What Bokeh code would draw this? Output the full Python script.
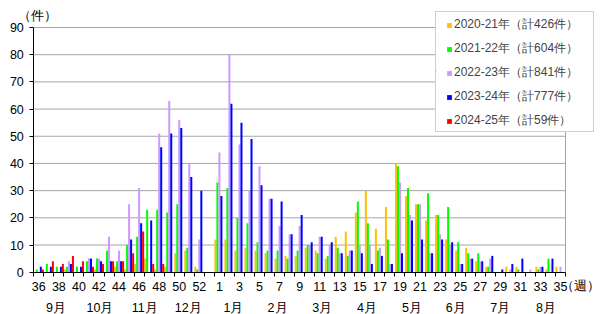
import numpy as np
from bokeh.plotting import figure
from bokeh.models import (Range1d, FixedTicker, LinearAxis, Legend, LegendItem,
                          ColumnDataSource, Label)
from bokeh.embed import file_html
from bokeh.resources import INLINE

# ---- data ----
weeks = list(range(36, 54)) + list(range(1, 36))
week_labels = [str(w) for w in weeks]
month_labels = ["9月", "10月", "11月", "12月", "1月", "2月", "3月", "4月",
                "5月", "6月", "7月", "8月"]
series_names = ["2020-21年（計426件）", "2021-22年（計604件）", "2022-23年（計841件）",
                "2023-24年（計777件）", "2024-25年（計59件）"]
y_unit = "（件）"
x_unit = "（週）"
y_ticks = list(range(0, 91, 10))

s2020_21 = [0, 0, 0, 1, 0, 0, 1, 0, 2, 1, 3, 5, 1, 2, 7, 8, 2, 0,
            12, 12, 8, 9, 8, 7, 5, 6, 6, 9, 8, 5, 13, 15, 22, 30, 16, 24, 40, 28,
            25, 19, 21, 12, 8, 9, 4, 2, 0, 2, 2, 0, 2, 1, 2]
s2021_22 = [1, 3, 2, 2, 2, 4, 5, 8, 4, 10, 13, 23, 23, 22, 25, 9, 1, 0,
            33, 31, 20, 18, 11, 8, 8, 5, 8, 10, 7, 6, 9, 6, 26, 18, 8, 12, 39, 31,
            25, 29, 21, 24, 11, 7, 7, 2, 0, 0, 1, 0, 1, 5, 0]
s2022_23 = [0, 0, 0, 4, 0, 5, 5, 13, 8, 25, 31, 0, 51, 63, 56, 40, 12, 0,
            44, 80, 47, 30, 39, 27, 17, 14, 17, 10, 13, 10, 7, 8, 10, 10, 9, 3, 33, 21,
            25, 7, 14, 10, 3, 5, 4, 5, 0, 1, 0, 1, 2, 0, 2]
s2023_24 = [2, 2, 2, 3, 2, 5, 4, 4, 4, 12, 18, 19, 46, 51, 53, 35, 30, 0,
            28, 62, 55, 49, 32, 27, 26, 14, 21, 11, 13, 11, 7, 8, 7, 3, 6, 3, 7, 19,
            12, 7, 12, 11, 3, 5, 4, 6, 1, 3, 5, 0, 2, 5, 0]
s2024_25 = [1, 4, 3, 6, 4, 2, 3, 4, 4, 7, 15, 3, 3, 0, 0, 0, 0, 0] + [0] * 35

series = [s2020_21, s2021_22, s2022_23, s2023_24, s2024_25]
colors = ["#FFC000", "#00FF00", "#CC99FF", "#0000FF", "#FF0000"]

# ---- layout constants ----
N = len(weeks)
YMAX = 90
FONT = "Liberation Sans"
GRID = "#a6a6a6"
W, H = 600, 314
PL, PR, PT, PB = 33.3, 565.0, 27.0, 271.7      # plot area in pixels
pxw = (PR - PL) / N
pxv = (PB - PT) / YMAX
month_pos = [2.2, 6.6, 11.05, 15.4, 19.9, 24.3, 28.75, 33.2, 37.7, 42.05, 46.5, 51.05]

# the frame spans the whole canvas; axes are pinned at the data origin
p = figure(width=W, height=H, title=None,
           x_range=Range1d(-PL / pxw, N + (W - PR) / pxw),
           y_range=Range1d(-(H - PB) / pxv, YMAX + PT / pxv),
           output_backend="svg", toolbar_location=None, min_border=0)
p.background_fill_color = "white"
p.border_fill_color = "white"
p.outline_line_color = None
p.xgrid.visible = False
p.ygrid.visible = False

# gridlines and right border of the plot area
p.segment(x0=[0] * (len(y_ticks) - 1), x1=[N] * (len(y_ticks) - 1),
          y0=y_ticks[1:], y1=y_ticks[1:], line_color=GRID, line_width=1)
p.segment(x0=[N], x1=[N], y0=[0], y1=[YMAX], line_color=GRID, line_width=1)

centers = np.arange(N) + 0.5
bw = 0.2
renderers = []
for k, (vals, col) in enumerate(zip(series, colors)):
    src = ColumnDataSource(dict(x=centers + (k - 2) * bw, top=vals))
    r = p.vbar(x="x", top="top", width=bw, source=src, fill_color=col,
               line_color=None)
    renderers.append(r)

# y axis
ya = p.yaxis[0]
ya.fixed_location = 0
ya.bounds = (0, YMAX)
ya.ticker = FixedTicker(ticks=y_ticks)
ya.major_tick_out = 4
ya.major_tick_in = 0
ya.minor_tick_line_color = None
ya.major_label_standoff = 6
ya.axis_line_color = "black"
ya.major_tick_line_color = "black"
ya.major_label_text_font = FONT
ya.major_label_text_font_size = "12.5px"
ya.major_label_text_color = "black"

# x axis: week labels (every 2nd week) + boundary ticks
ax = p.xaxis[0]
ax.fixed_location = 0
ax.bounds = (0, N)
lab_idx = list(range(0, N, 2))
ax.ticker = FixedTicker(ticks=[i + 0.5 for i in lab_idx],
                        minor_ticks=list(range(0, N + 1)))
ax.major_label_overrides = {i + 0.5: week_labels[i] for i in lab_idx}
ax.major_tick_out = 0
ax.major_tick_in = 0
ax.minor_tick_out = 4
ax.minor_tick_in = 0
ax.minor_tick_line_color = "black"
ax.axis_line_color = "black"
ax.major_label_standoff = 6
ax.major_label_text_font = FONT
ax.major_label_text_font_size = "12.5px"
ax.major_label_text_color = "black"

# month axis
max_ = LinearAxis(ticker=FixedTicker(ticks=month_pos), fixed_location=0,
                  bounds=(0, N),
                  major_label_overrides={m: t for m, t in zip(month_pos, month_labels)})
max_.major_tick_line_color = None
max_.minor_tick_line_color = None
max_.axis_line_color = None
max_.major_label_standoff = 23
max_.major_label_text_font = FONT
max_.major_label_text_font_size = "12.5px"
max_.major_label_text_color = "black"
p.add_layout(max_, "below")

# unit labels
p.add_layout(Label(x=(17 - PL) / pxw, y=(PB - 15) / pxv, text=y_unit,
                   text_baseline="middle", text_align="left",
                   text_font=FONT, text_font_size="12.5px", text_color="black"))
p.add_layout(Label(x=(560 - PL) / pxw, y=-(285 - PB) / pxv, text=x_unit,
                   text_baseline="middle", text_align="left",
                   text_font=FONT, text_font_size="12.5px", text_color="black"))

# legend frame (box only; its single label is invisible)
box = Legend(items=[LegendItem(label=".", renderers=[renderers[4]])],
             location=(435, 182), padding=0, spacing=0, margin=0,
             glyph_width=1, glyph_height=1, label_width=156, label_height=119,
             label_standoff=0, label_text_font_size="10px", label_text_alpha=0,
             border_line_color="#a0a0a0", background_fill_color="white",
             background_fill_alpha=1)
p.add_layout(box)

# legend entries
legend = Legend(items=[LegendItem(label=n, renderers=[r]) for n, r in zip(series_names, renderers)],
                location=(446, 185), padding=0, spacing=7, margin=0,
                glyph_width=6, glyph_height=6, label_height=17, label_standoff=2,
                label_text_font=FONT, label_text_font_size="12px",
                border_line_color=None, background_fill_alpha=0)
p.add_layout(legend)

open("out.html", "w").write(file_html(p, INLINE))
